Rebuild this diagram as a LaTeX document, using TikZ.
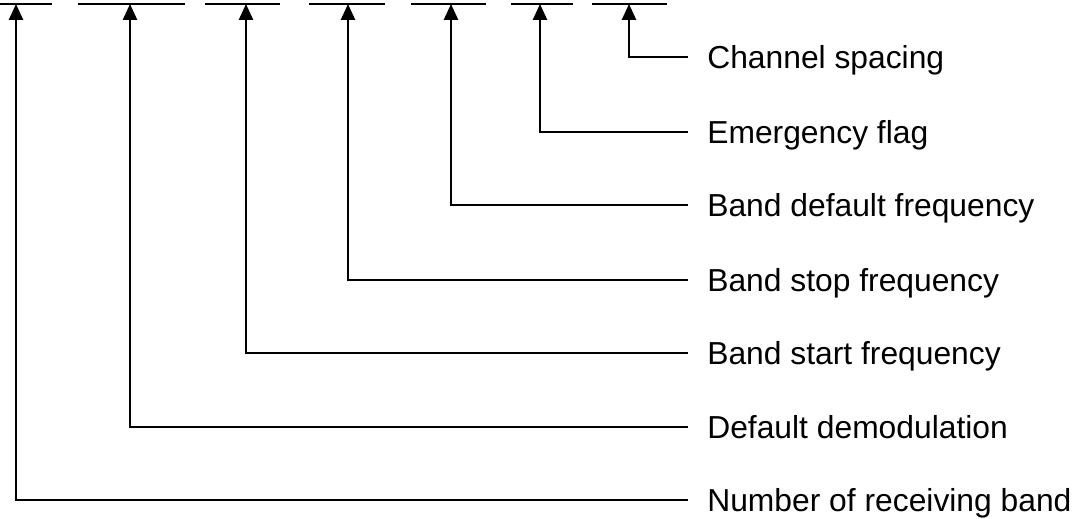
\documentclass[tikz,border=0pt]{standalone}
\usepackage{fontspec}
\setmainfont{Liberation Sans}
\usetikzlibrary{arrows.meta}

\begin{document}
\begin{tikzpicture}[x=0.02cm,y=-0.02cm,
  wire/.style={line width=1.1pt},
  fieldlbl/.style={anchor=west,font=\fontsize{18.1}{20}\selectfont,
    inner xsep=10.8pt,inner ysep=0pt,text height=13pt,text depth=0pt}]
  \useasboundingbox (0,0) rectangle (1075,518);
  % the blanks of the field
  \foreach \a/\b/\m [count=\i] in {0/52/16,78/185/130,205/280/246,309/385/348,411/486/451,511/573/540,592/667/629}{
    \draw[wire] (\a,4) -- (\b,4);
    \coordinate (f\i) at (\m,4);
  }
      \node[fieldlbl](spacing) at (688,57){Channel spacing};
      \node[fieldlbl](emerg) at (688,132){Emergency flag};
      \node[fieldlbl](deffreq) at (688,205){Band default frequency};
      \node[fieldlbl](stopfreq) at (688,280){Band stop frequency};
      \node[fieldlbl](startfreq) at (688,353){Band start frequency};
      \node[fieldlbl](demod) at (688,427){Default demodulation};
      \node[fieldlbl](nband) at (688,500){Number of receiving band};

  \draw[wire,-{Triangle[length=9pt,width=8pt]}](spacing.west) -| (f7);
  \draw[wire,-{Triangle[length=9pt,width=8pt]}](emerg.west) -| (f6);
  \draw[wire,-{Triangle[length=9pt,width=8pt]}](deffreq.west) -| (f5);
  \draw[wire,-{Triangle[length=9pt,width=8pt]}](stopfreq.west) -| (f4);
  \draw[wire,-{Triangle[length=9pt,width=8pt]}](startfreq.west) -| (f3);
  \draw[wire,-{Triangle[length=9pt,width=8pt]}](demod.west) -| (f2);
  \draw[wire,-{Triangle[length=9pt,width=8pt]}](nband.west) -| (f1);

\end{tikzpicture}
\end{document}
